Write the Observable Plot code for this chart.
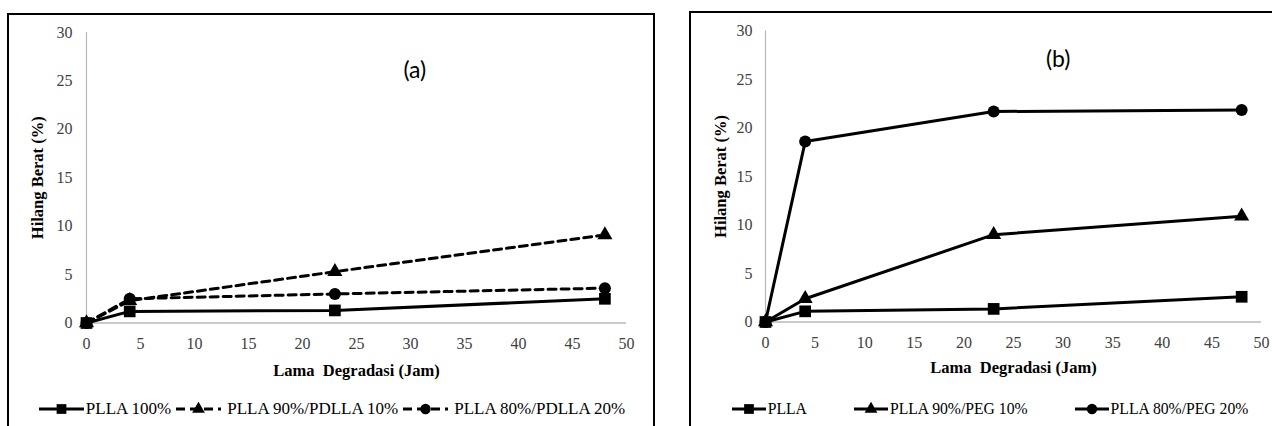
<!DOCTYPE html>
<html><head><meta charset="utf-8">
<script src="https://cdn.jsdelivr.net/npm/d3@7"></script>
<script src="https://cdn.jsdelivr.net/npm/@observablehq/plot@0.6"></script>
</head><body style="margin:0;background:#fff">
<div id="page" style="position:relative;width:1272px;height:426px;overflow:hidden;background:#fff;font-family:'Liberation Serif',serif"></div>
<script>
// ---- data ----
const hours = [0, 4, 23, 48];
const xTicks = [0, 5, 10, 15, 20, 25, 30, 35, 40, 45, 50];
const yTicks = [0, 5, 10, 15, 20, 25, 30];

const seriesA = ["PLLA 100%", "PLLA 90%/PDLLA 10%", "PLLA 80%/PDLLA 20%"];
const a_PLLA100 = [0, 1.2, 1.3, 2.5];
const a_PDLLA10 = [0, 2.3, 5.3, 9.1];
const a_PDLLA20 = [0, 2.5, 3.0, 3.6];

const seriesB = ["PLLA", "PLLA 90%/PEG 10%", "PLLA 80%/PEG 20%"];
const b_PLLA = [0, 1.1, 1.35, 2.6];
const b_PEG10 = [0, 2.4, 9.0, 10.9];
const b_PEG20 = [0, 18.6, 21.7, 21.85];

const xTitle = "Lama \u00a0Degradasi (Jam)";
const yTitle = "Hilang Berat (%)";

// ---- helpers ----
const SERIF = "Liberation Serif";
const SERIF_CSS = "'Liberation Serif', 'Times New Roman', serif";
const rows = (vals) => hours.map((h, i) => ({x: h, y: vals[i]}));
const symbols = ["square", "triangle", "circle"];
const symR = {square: 6.6, triangle: 5.6, circle: 6};

function makePanel(o) {
  const marks = [
    Plot.ruleY([0], {stroke: "#b8b8b8", strokeWidth: 1.6}),
    Plot.ruleX([0], {stroke: "#b8b8b8", strokeWidth: 1.2}),
  ];
  o.values.forEach((vals, i) => {
    marks.push(Plot.line(rows(vals), {x: "x", y: "y", stroke: "#000", strokeWidth: 3,
      strokeDasharray: o.dashed[i] ? "8,5" : null}));
  });
  o.values.forEach((vals, i) => {
    marks.push(Plot.dot(rows(vals), {x: "x", y: "y", symbol: () => symbols[i], fill: "#000",
      stroke: "none", r: symR[symbols[i]]}));
  });
  marks.push(
    Plot.axisX({ticks: xTicks, tickSize: 0, tickPadding: 15, label: null, fill: "#404040",
      tickFormat: d => d, fontSize: 16, fontFamily: SERIF}),
    Plot.axisY({ticks: yTicks, tickSize: 0, tickPadding: o.yPad, label: null, fill: "#404040",
      tickFormat: d => d, fontSize: 16, fontFamily: SERIF}),
    Plot.text([xTitle], {frameAnchor: "bottom", dy: o.xTitleDy, fontWeight: "bold", fontSize: 16.5,
      fill: "#000", fontFamily: SERIF}),
    Plot.text([yTitle], {frameAnchor: "left", rotate: -90, dx: o.yTitleDx, textAnchor: "middle",
      lineAnchor: "middle", fontWeight: "bold", fontSize: 16.5, fill: "#000", fontFamily: SERIF}),
    Plot.text([o.tag], {x: o.tagX, y: o.tagY, fontSize: 23, fill: "#000", fontFamily: "Lato"})
  );
  const svg = Plot.plot({
    width: o.width, height: 385,
    marginLeft: o.ml, marginRight: o.mr, marginTop: o.mt, marginBottom: o.mb,
    x: {domain: [0, 50]},
    y: {domain: [0, 30]},
    marks
  });
  svg.style.display = "block";
  svg.style.background = "transparent";
  svg.style.overflow = "visible";

  const wrap = document.createElement("div");
  wrap.style.position = "absolute";
  wrap.style.top = "0px";
  wrap.style.left = o.left + "px";
  wrap.style.width = o.width + "px";
  wrap.appendChild(svg);

  const leg = document.createElement("div");
  Object.assign(leg.style, {display: "flex", justifyContent: "center", alignItems: "center",
    fontSize: o.legFont + "px", color: "#000", fontFamily: SERIF_CSS,
    paddingTop: "14px", height: "20px", whiteSpace: "nowrap", gap: o.legGap + "px"});
  o.names.forEach((name, i) => {
    const item = document.createElement("div");
    Object.assign(item.style, {display: "flex", alignItems: "center"});
    const sw = o.swW;
    const s = d3.create("svg").attr("width", sw).attr("height", 14).style("display", "block");
    s.append("line").attr("x1", 0).attr("x2", sw).attr("y1", 7).attr("y2", 7)
      .attr("stroke", "#000").attr("stroke-width", 3)
      .attr("stroke-dasharray", o.dashed[i] ? "9,5" : null);
    const symType = {square: d3.symbolSquare, triangle: d3.symbolTriangle, circle: d3.symbolCircle}[symbols[i]];
    const sz = {square: 95, triangle: 70, circle: 85}[symbols[i]];
    s.append("path").attr("d", d3.symbol(symType, sz)()).attr("transform", `translate(${sw/2},7)`).attr("fill", "#000");
    item.appendChild(s.node());
    const t = document.createElement("div");
    t.textContent = name;
    t.style.marginLeft = (o.dashed[i] ? 6 : 2) + "px";
    item.appendChild(t);
    leg.appendChild(item);
  });
  wrap.appendChild(leg);
  return wrap;
}

function box(left, top, width) {
  const b = document.createElement("div");
  Object.assign(b.style, {position: "absolute", left: left + "px", top: top + "px", width: width + "px",
    height: "500px", border: "2px solid #000", borderBottom: "none", boxSizing: "border-box"});
  return b;
}

const page = document.getElementById("page");
page.appendChild(box(7, 13, 648));
page.appendChild(box(689, 11, 700));

page.appendChild(makePanel({
  left: 0, width: 664, ml: 86, mr: 38, mt: 32, mb: 62.5, yPad: 14, yTitleDx: -49, xTitleDy: 53,
  values: [a_PLLA100, a_PDLLA10, a_PDLLA20], dashed: [false, true, true], names: seriesA,
  tag: "(a)", tagX: 30.4, tagY: 26.1, legGap: 5, swW: 45, legFont: 17
}));
page.appendChild(makePanel({
  left: 690, width: 600, ml: 75, mr: 29, mt: 30.5, mb: 63.5, yPad: 13, yTitleDx: -45, xTitleDy: 50.5,
  values: [b_PLLA, b_PEG10, b_PEG20], dashed: [false, false, false], names: seriesB,
  tag: "(b)", tagX: 29.5, tagY: 27.1, legGap: 47, swW: 34, legFont: 15.7
}));
</script></body></html>
